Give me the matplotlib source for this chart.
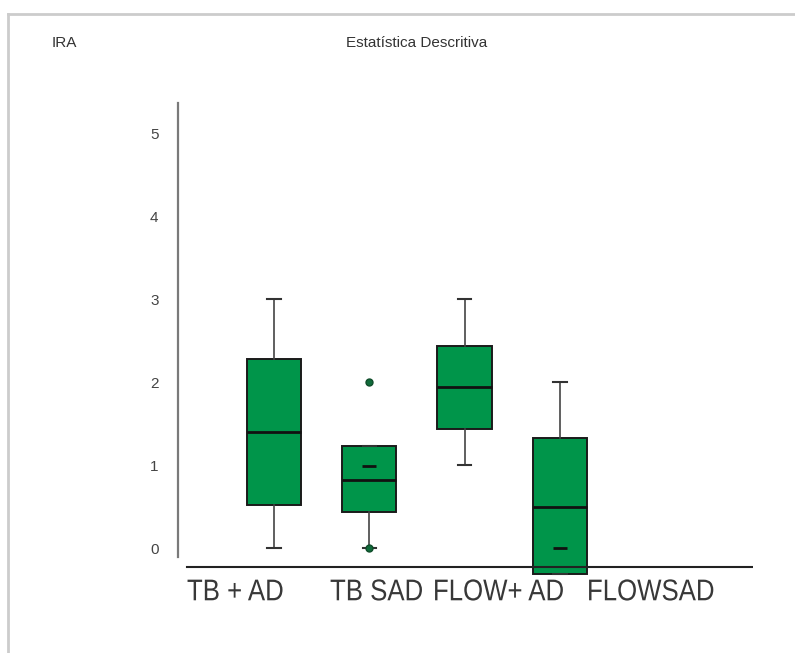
import matplotlib.pyplot as plt
from matplotlib.lines import Line2D
from matplotlib.textpath import TextPath
from matplotlib.patches import PathPatch
from matplotlib.font_manager import FontProperties
from matplotlib.transforms import Affine2D, ScaledTranslation

# data
categories = ["TB + AD", "TB SAD", "FLOW+ AD", "FLOWSAD"]
whisker_low = [0.0, 0.0, 1.0, -0.31]
q1 = [0.52, 0.43, 1.43, -0.31]
medians = [1.40, 0.82, 1.94, 0.49]
q3 = [2.28, 1.23, 2.43, 1.33]
whisker_high = [3.0, 1.23, 3.0, 2.0]
means = [float("nan"), 0.99, float("nan"), 0.0]
outliers = [[], [2.0, 0.0], [], []]
yticks = [0, 1, 2, 3, 4, 5]

# layout
label_x = [0.087, 1.588, 2.668, 4.284]
green = "#00954a"

fig = plt.figure(figsize=(7.95, 6.53), dpi=100)
ax = fig.add_axes([178 / 795, 1 - 580 / 653, 575 / 795, 480 / 653])

stats = []
for i, name in enumerate(categories):
    stats.append(
        {
            "label": name,
            "whislo": whisker_low[i],
            "q1": q1[i],
            "med": medians[i],
            "q3": q3[i],
            "whishi": whisker_high[i],
            "mean": means[i],
            "fliers": outliers[i],
        }
    )

ax.bxp(
    stats,
    positions=[1, 2, 3, 4],
    widths=0.57,
    capwidths=0.14,
    patch_artist=True,
    showmeans=True,
    boxprops=dict(facecolor=green, edgecolor="#1a1a1a", linewidth=1.4),
    medianprops=dict(color="#111111", linewidth=2.0),
    whiskerprops=dict(color="#444444", linewidth=1.2),
    capprops=dict(color="#333333", linewidth=1.5),
    meanprops=dict(marker="_", markeredgecolor="#111111", markersize=10,
                   markeredgewidth=2.0),
    flierprops=dict(marker="o", markerfacecolor="#0f6b3a",
                    markeredgecolor="#0f4d2a", markersize=5),
    manage_ticks=False,
)

ax.set_xlim(-0.007, 6.026)
ax.set_ylim(-0.3855, 5.3976)

for s in ["top", "right", "bottom"]:
    ax.spines[s].set_visible(False)
ax.spines["left"].set_bounds(-0.108, 5.36)
ax.spines["left"].set_color("#7a7a7a")
ax.spines["left"].set_linewidth(1.6)

ax.axhline(-0.229, xmin=9 / 575, xmax=1, color="#222222", linewidth=1.5)

ax.set_xticks([])
ax.set_yticks(yticks)
ax.set_yticklabels([str(t) for t in yticks], fontfamily="Liberation Sans",
                   fontsize=11, color="#444444")
ax.tick_params(axis="y", length=0, pad=14)

# category labels: condensed sans, drawn as paths squeezed horizontally
prop = FontProperties(family="Liberation Sans")
for x, name in zip(label_x, categories):
    tp = TextPath((0, 0), name, size=30, prop=prop)
    trans = Affine2D().scale(0.86, 1.0) + ScaledTranslation(x, -0.63, ax.transData)
    ax.add_artist(PathPatch(tp, transform=trans, facecolor="#383838",
                            edgecolor="none", clip_on=False))

fig.text(417 / 795, 1 - 43 / 653, "Estatística Descritiva", ha="center",
         va="center", fontsize=11, color="#333333", family="Liberation Sans")
fig.text(52 / 795, 1 - 43 / 653, "IRA", ha="left", va="center", fontsize=11,
         color="#333333", family="Liberation Sans")

# light frame around the picture
fig.add_artist(Line2D([8 / 795, 1], [1 - 14 / 653, 1 - 14 / 653],
                      transform=fig.transFigure, color="#cccccc", linewidth=2))
fig.add_artist(Line2D([8 / 795, 8 / 795], [0, 1 - 14 / 653],
                      transform=fig.transFigure, color="#cccccc", linewidth=2))

fig.savefig("out.png", dpi=100)
